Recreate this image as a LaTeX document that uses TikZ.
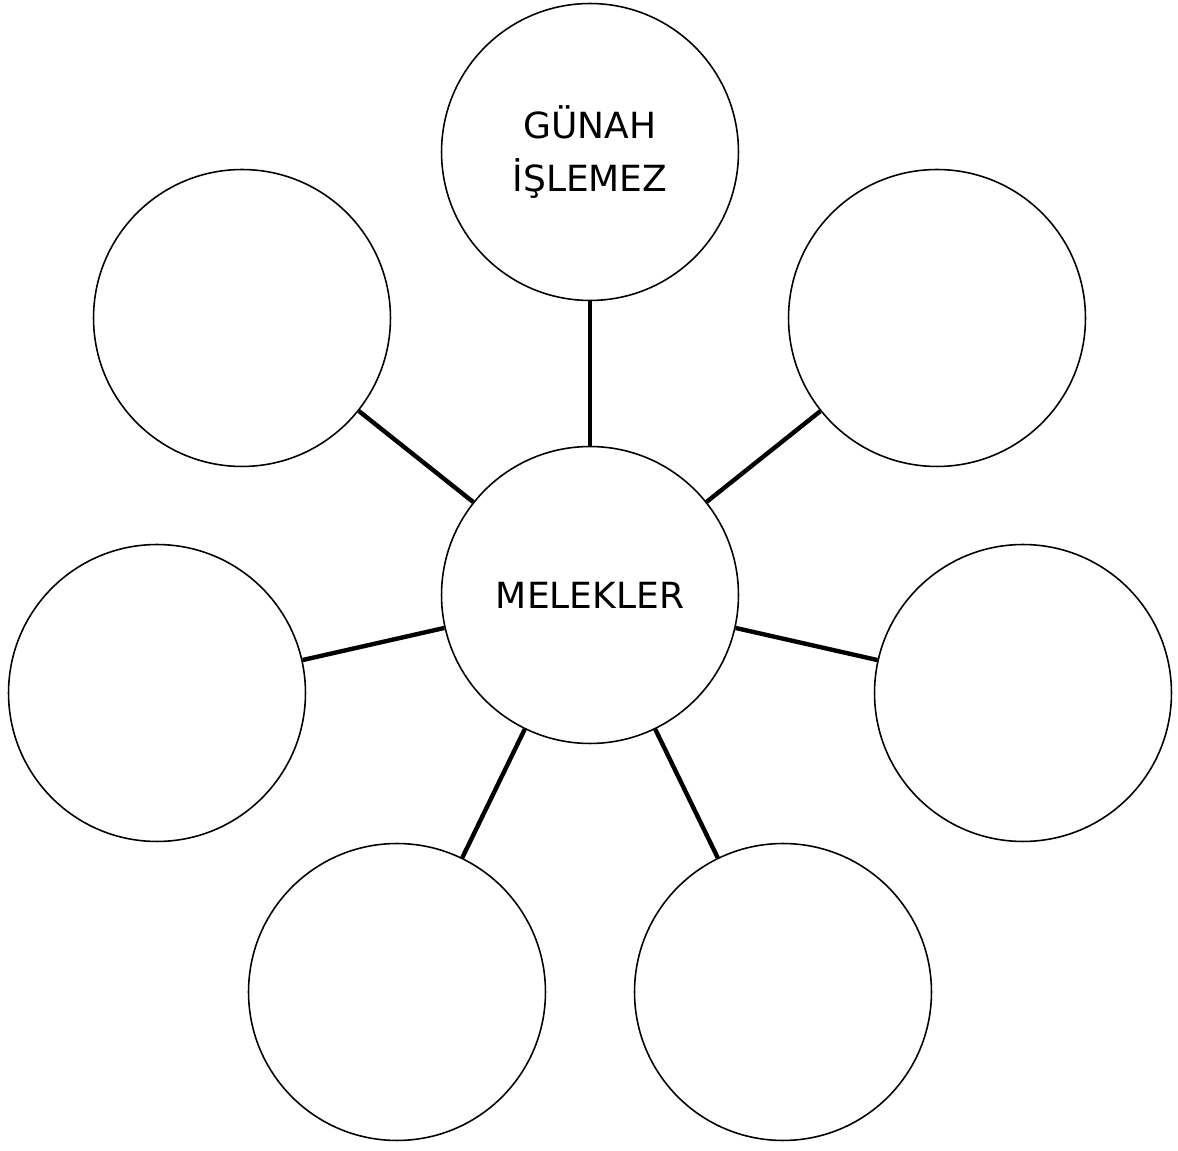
\documentclass[tikz,border=0pt]{standalone}
\usepackage{fontspec}
\setmainfont{DejaVu Sans}
\usepackage{tikz}

\tikzset{
    bubble/.style={circle,draw,line width=0.9pt,minimum size=5.94cm,inner sep=0pt,
                   align=center,font=\fontsize{20.5}{30}\selectfont},
    link/.style={line width=2.5pt},
}

\begin{document}
\begin{tikzpicture}[x=0.02cm,y=-0.02cm]
                \useasboundingbox (0,0) rectangle (1178,1151);

                \node[bubble] (melek) at (590,595) {MELEKLER};
                \node[bubble] (top) at (590,152) {GÜNAH\\İŞLEMEZ};
                \node[bubble] (ul) at (242,318) {};
                \node[bubble] (ur) at (937,318) {};
                \node[bubble] (l) at (157,693) {};
                \node[bubble] (r) at (1023,693) {};
                \node[bubble] (bl) at (397,992) {};
                \node[bubble] (br) at (783,992) {};

                % spokes
                \foreach \n in {top,ul,ur,l,r,bl,br}
                    \draw[link] (melek) -- (\n);
            \end{tikzpicture}
\end{document}
